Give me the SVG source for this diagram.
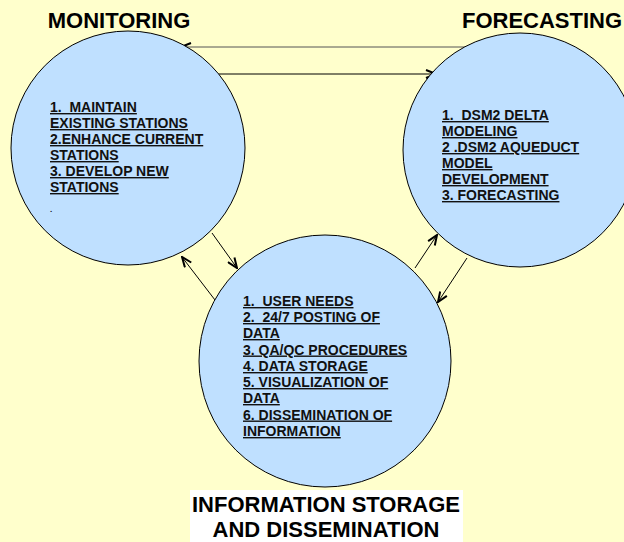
<svg xmlns="http://www.w3.org/2000/svg" width="624" height="542" viewBox="0 0 624 542">
<style>
.bg{fill:#FFFFCC}
.node{fill:#BFE0FF;stroke:#000;stroke-width:1}
.title{font-family:"Liberation Sans",Arial,sans-serif;font-weight:bold;font-size:22px;fill:#000}
.body{font-family:"Liberation Sans",Arial,sans-serif;font-weight:bold;font-size:14px;fill:#111;text-decoration:underline;white-space:pre}
.conn{stroke:#000;stroke-width:1;fill:none;marker-end:url(#ah)}
</style>
<defs>
<marker id="ah" viewBox="0 0 12 10" refX="11" refY="5" markerWidth="12" markerHeight="10" markerUnits="userSpaceOnUse" orient="auto">
<path d="M1,1 L11,5 L1,9" fill="none" stroke="#000" stroke-width="2"/>
</marker>
</defs>
<rect class="bg" x="0" y="0" width="624" height="542"/>
<g id="connectors">
<line class="conn" x1="468" y1="47" x2="181" y2="47" style="stroke:#555"/>
<line class="conn" x1="211" y1="74" x2="436" y2="74"/>
<line class="conn" x1="212" y1="233" x2="237" y2="268"/>
<line class="conn" x1="215" y1="300" x2="182" y2="257"/>
<line class="conn" x1="415" y1="268" x2="437" y2="235"/>
<line class="conn" x1="467" y1="258" x2="438" y2="302"/>
</g>
<g id="monitoring">
<circle class="node" cx="128" cy="148" r="117"/>
<text class="title" x="119" y="28" text-anchor="middle">MONITORING</text>
<text class="body" x="50" y="112">1.  MAINTAIN</text>
<text class="body" x="50" y="128">EXISTING STATIONS</text>
<text class="body" x="50" y="144">2.ENHANCE CURRENT</text>
<text class="body" x="50" y="160">STATIONS</text>
<text class="body" x="50" y="176">3. DEVELOP NEW</text>
<text class="body" x="50" y="192">STATIONS</text>
<text class="body" x="50" y="212" style="text-decoration:none;font-size:8px">.</text>
</g>
<g id="forecasting">
<circle class="node" cx="520" cy="150" r="117"/>
<text class="title" x="542" y="28" text-anchor="middle">FORECASTING</text>
<text class="body" x="442" y="120">1.  DSM2 DELTA</text>
<text class="body" x="442" y="136">MODELING</text>
<text class="body" x="442" y="152">2 .DSM2 AQUEDUCT</text>
<text class="body" x="442" y="168">MODEL</text>
<text class="body" x="442" y="184">DEVELOPMENT</text>
<text class="body" x="442" y="200">3. FORECASTING</text>
</g>
<g id="information">
<circle class="node" cx="325" cy="361" r="126"/>
<rect x="190" y="490" width="273" height="52" fill="#FFFFFF"/>
<text class="title" x="326" y="512" text-anchor="middle">INFORMATION STORAGE</text>
<text class="title" x="326" y="537" text-anchor="middle">AND DISSEMINATION</text>
<text class="body" x="243" y="306">1.  USER NEEDS</text>
<text class="body" x="243" y="322">2.  24/7 POSTING OF</text>
<text class="body" x="243" y="338">DATA</text>
<text class="body" x="243" y="354.5">3. QA/QC PROCEDURES</text>
<text class="body" x="243" y="371">4. DATA STORAGE</text>
<text class="body" x="243" y="387">5. VISUALIZATION OF</text>
<text class="body" x="243" y="403">DATA</text>
<text class="body" x="243" y="419.5">6. DISSEMINATION OF</text>
<text class="body" x="243" y="436">INFORMATION</text>
</g>
</svg>
